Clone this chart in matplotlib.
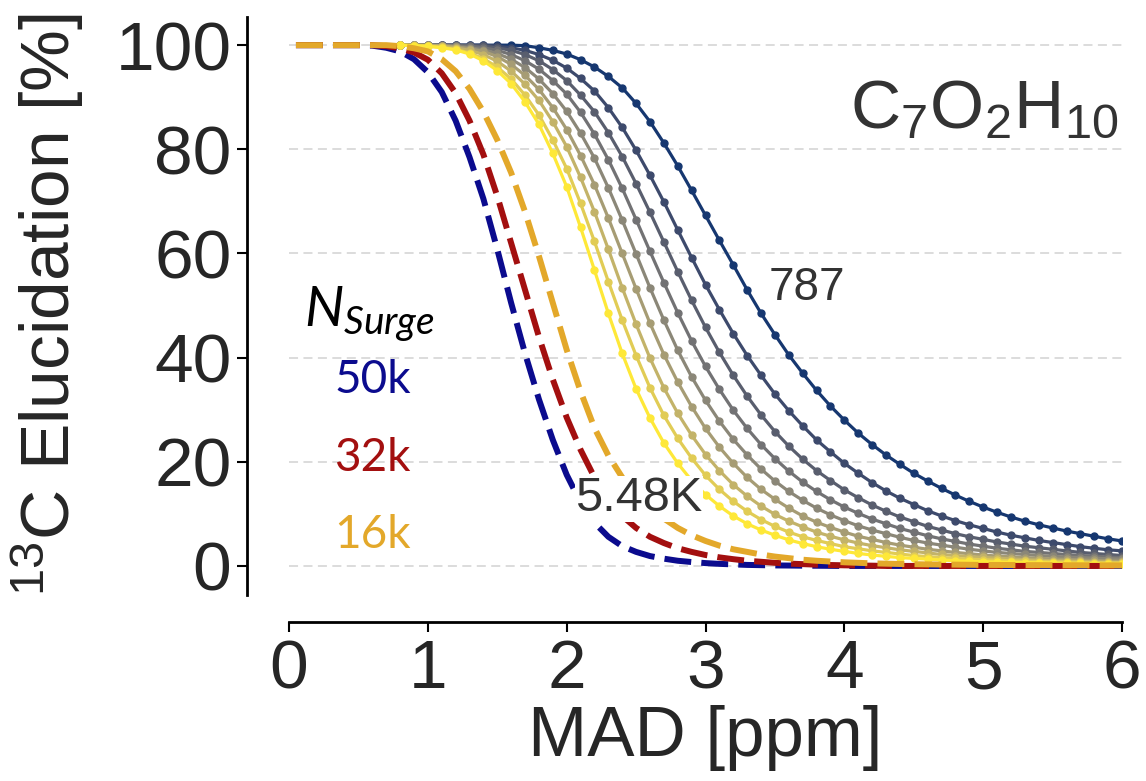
import numpy as np
import matplotlib
matplotlib.use('Agg')
import matplotlib.pyplot as plt

plt.rcParams['font.family'] = ['Liberation Sans', 'DejaVu Sans']
plt.rcParams['mathtext.fontset'] = 'custom'
plt.rcParams['mathtext.rm'] = 'Liberation Sans'
plt.rcParams['mathtext.it'] = 'Lato:italic'

# MAD grid [ppm]; solid curves use mad[5:] (0.8 .. 6.0)
mad = [0.05, 0.3, 0.5, 0.6, 0.7,
       0.8, 0.9, 1.0, 1.1, 1.2, 1.3, 1.4, 1.5, 1.6, 1.7, 1.8, 1.9,
       2.0, 2.1, 2.2, 2.3, 2.4, 2.5, 2.6, 2.7, 2.8, 2.9,
       3.0, 3.1, 3.2, 3.3, 3.4, 3.5, 3.6, 3.7, 3.8, 3.9,
       4.0, 4.1, 4.2, 4.3, 4.4, 4.5, 4.6, 4.7, 4.8, 4.9,
       5.0, 5.1, 5.2, 5.3, 5.4, 5.5, 5.6, 5.7, 5.8, 5.9, 6.0]

# dashed reference curves (N_Surge)
surge_labels = ['50k', '32k', '16k']
surge_colors = ['#0b0b8e', '#a30f0f', '#e3a82a']
surge_50k = [100, 100, 100, 99.9, 99.5,
             98.8, 97.3, 94.8, 91.0, 85.5, 78.5, 70.5, 60.8, 50.5, 40.8, 32.0, 24.2,
             17.5, 12.2, 8.3, 5.6, 3.8, 2.7, 1.9, 1.4, 1.0, 0.75,
             0.55, 0.4, 0.3, 0.2, 0.15, 0.1, 0.08, 0.05, 0.04, 0.02,
             0, 0, 0, 0, 0, 0, 0, 0, 0, 0, 0, 0, 0, 0, 0, 0, 0, 0, 0, 0, 0]
surge_32k = [100, 100, 100, 100, 99.8,
             99.4, 98.6, 97.2, 94.6, 90.8, 85.5, 79.0, 71.0, 62.0, 53.0, 44.0, 35.8,
             28.5, 22.3, 17.0, 12.9, 9.6, 7.3, 5.6, 4.4, 3.4, 2.7,
             2.1, 1.65, 1.3, 1.0, 0.8, 0.6, 0.45, 0.35, 0.25, 0.18,
             0.12, 0.08, 0.05, 0, 0, 0, 0, 0, 0, 0, 0, 0, 0, 0, 0, 0, 0, 0, 0, 0, 0]
surge_16k = [100, 100, 100, 100, 100,
             99.8, 99.4, 98.8, 97.3, 95.0, 91.6, 87.2, 81.8, 75.5, 68.0, 59.5, 50.5,
             41.5, 33.5, 26.5, 21.2, 17.0, 13.8, 11.2, 9.1, 7.3, 5.9,
             4.8, 3.9, 3.2, 2.7, 2.2, 1.8, 1.5, 1.2, 1.0, 0.85,
             0.7, 0.6, 0.5, 0.44, 0.38, 0.34, 0.3, 0.27, 0.25, 0.22,
             0.2, 0.19, 0.18, 0.16, 0.15, 0.14, 0.13, 0.12, 0.11, 0.1, 0.1]

# solid curves with points, 787 (dark blue) .. 5.48K (yellow), MAD 0.8 .. 6.0
elu_a = [100, 100, 100, 100, 100, 100, 100, 100, 100, 99.9, 99.5, 99.0,
         98.3, 97.2, 95.8, 94.0, 91.8, 88.8, 85.3, 81.2, 76.8, 72.1,
         67.3, 62.5, 57.8, 53.0, 48.5, 44.4, 40.5, 37.0, 33.7, 30.7,
         28.0, 25.5, 23.3, 21.3, 19.5, 17.8, 16.3, 14.9, 13.6, 12.4,
         11.3, 10.3, 9.4, 8.6, 7.9, 7.3, 6.7, 6.2, 5.7, 5.2, 4.8]
elu_b = [100, 100, 100, 100, 100, 100, 100, 99.8, 99.5, 99.0, 98.2, 97.1,
         95.6, 93.6, 91.2, 88.0, 84.2, 79.8, 75.0, 69.9, 64.5, 59.2,
         54.0, 49.2, 44.6, 40.4, 36.6, 33.0, 29.8, 26.9, 24.2, 21.9,
         19.7, 17.8, 16.0, 14.4, 13.0, 11.8, 10.6, 9.6, 8.7, 7.9,
         7.2, 6.5, 5.9, 5.4, 4.9, 4.5, 4.1, 3.7, 3.4, 3.1, 2.9]
elu_c = [100, 100, 100, 100, 100, 99.9, 99.8, 99.5, 99.0, 98.2, 97.0, 95.3,
         93.2, 90.4, 87.2, 83.2, 78.6, 73.4, 67.9, 62.2, 56.5, 51.0,
         45.8, 41.0, 36.6, 32.6, 29.0, 25.8, 23.0, 20.5, 18.3, 16.4,
         14.6, 13.1, 11.7, 10.5, 9.4, 8.5, 7.6, 6.9, 6.2, 5.6,
         5.1, 4.6, 4.2, 3.8, 3.5, 3.2, 2.9, 2.6, 2.4, 2.2, 2.0]
elu_d = [100, 100, 100, 100, 99.9, 99.8, 99.5, 99.0, 98.2, 97.0, 95.4, 93.2,
         90.6, 87.1, 82.9, 78.0, 72.5, 66.5, 60.4, 54.4, 48.6, 43.2,
         38.3, 33.9, 29.9, 26.4, 23.3, 20.6, 18.2, 16.1, 14.3, 12.7,
         11.3, 10.1, 9.0, 8.1, 7.2, 6.5, 5.8, 5.2, 4.7, 4.2,
         3.8, 3.4, 3.1, 2.8, 2.6, 2.4, 2.2, 2.0, 1.9, 1.7, 1.6]
elu_e = [100, 100, 100, 99.9, 99.8, 99.5, 99.1, 98.4, 97.3, 95.7, 93.5, 90.7,
         87.3, 83.1, 78.3, 72.6, 66.4, 59.9, 53.4, 47.2, 41.4, 36.3,
         31.8, 27.8, 24.3, 21.3, 18.6, 16.3, 14.3, 12.6, 11.1, 9.8,
         8.7, 7.7, 6.9, 6.2, 5.5, 4.9, 4.4, 4.0, 3.6, 3.2,
         2.9, 2.6, 2.4, 2.2, 2.0, 1.85, 1.7, 1.6, 1.5, 1.4, 1.3]
elu_f = [100, 100, 100, 99.9, 99.7, 99.3, 98.8, 97.8, 96.3, 94.2, 91.5, 88.0,
         83.8, 78.8, 73.2, 66.8, 60.0, 53.2, 46.6, 40.6, 35.3, 30.6,
         26.4, 22.8, 19.7, 17.0, 14.7, 12.8, 11.1, 9.6, 8.4, 7.4,
         6.5, 5.7, 5.1, 4.5, 4.0, 3.6, 3.2, 2.9, 2.6, 2.35,
         2.1, 1.9, 1.75, 1.6, 1.45, 1.35, 1.25, 1.15, 1.05, 0.95, 0.9]
elu_g = [100, 100, 99.9, 99.8, 99.5, 99.0, 98.2, 96.9, 95.0, 92.5, 89.4, 85.3,
         80.5, 74.6, 68.0, 60.8, 53.4, 46.4, 39.9, 34.2, 29.3, 25.1,
         21.4, 18.3, 15.6, 13.4, 11.5, 9.9, 8.6, 7.5, 6.5, 5.7,
         5.0, 4.4, 3.9, 3.5, 3.1, 2.8, 2.5, 2.2, 2.0, 1.8,
         1.65, 1.5, 1.35, 1.2, 1.1, 1.0, 0.95, 0.88, 0.8, 0.75, 0.7]
elu_h = [100, 99.9, 99.8, 99.6, 99.2, 98.5, 97.4, 95.8, 93.5, 90.4, 86.6, 81.8,
         76.3, 69.6, 62.3, 54.6, 47.2, 40.4, 34.2, 28.9, 24.5, 20.7,
         17.4, 14.7, 12.4, 10.5, 8.9, 7.6, 6.5, 5.6, 4.9, 4.3,
         3.7, 3.3, 2.9, 2.6, 2.3, 2.0, 1.8, 1.6, 1.45, 1.3,
         1.2, 1.1, 1.0, 0.92, 0.85, 0.8, 0.75, 0.7, 0.65, 0.62, 0.6]
elu_i = [100, 99.9, 99.8, 99.5, 99.1, 98.3, 97.0, 95.1, 92.6, 89.1, 84.8, 79.2,
         72.8, 65.0, 56.8, 48.5, 40.8, 34.0, 28.4, 23.6, 19.7, 16.4,
         13.7, 11.5, 9.6, 8.1, 6.9, 5.9, 5.0, 4.3, 3.7, 3.2,
         2.8, 2.4, 2.1, 1.85, 1.6, 1.45, 1.3, 1.15, 1.0, 0.9,
         0.8, 0.75, 0.7, 0.65, 0.6, 0.55, 0.5, 0.48, 0.45, 0.42, 0.4]

fig = plt.figure(figsize=(11.46, 7.81), dpi=100)
ax = fig.add_axes([0.2522, 0.2382, 0.7269, 0.74])

solid = [elu_a, elu_b, elu_c, elu_d, elu_e, elu_f, elu_g, elu_h, elu_i]
cols = plt.get_cmap('cividis')(np.linspace(0.12, 1.0, len(solid)))
x = np.array(mad)
for ys, c in zip(solid, cols):
    ax.plot(x[5:], ys, color=c, lw=2.3, zorder=3)
    ax.plot(x[5:], ys, 'o', ms=5, color=c, zorder=3)

for ys, c in zip([surge_50k, surge_32k, surge_16k], surge_colors):
    ax.plot(x, ys, color=c, lw=4.3, ls=(0, (4.5, 1.7)), dash_capstyle='butt', zorder=4)

ax.set_xlim(0, 6)
ax.set_ylim(-5.57, 105.4)
ax.set_xticks(range(7))
ax.set_yticks(range(0, 101, 20))
for s in ['top', 'right']:
    ax.spines[s].set_visible(False)
ax.spines['left'].set_position(('outward', 30))
ax.spines['bottom'].set_position(('outward', 19.5))
ax.spines['left'].set_linewidth(2)
ax.spines['bottom'].set_linewidth(2)
ax.tick_params(length=7.5, width=1.5, labelsize=50, pad=4, labelcolor='#262626')
ax.yaxis.grid(True, color='#d9d9d9', ls=(0, (5, 3)), lw=1.3)
ax.set_axisbelow(True)

ax.text(5.97, 87.5, r'C$_7$O$_2$H$_{10}$', ha='right', va='center', fontsize=50, color='#333333')
ax.text(3.73, 53.4, '787', ha='center', va='center', fontsize=33, color='#333333')
ax.text(2.52, 12.9, '5.48K', ha='center', va='center', fontsize=35, color='#333333', zorder=5,
        bbox=dict(facecolor='white', edgecolor='none', pad=0.5))

ax.text(0.58, 48.2, r'$N_{Surge}$', ha='center', va='center', fontsize=40, color='black')
for lab, c, yy in zip(surge_labels, surge_colors, [35.7, 20.7, 6.0]):
    ax.text(0.6, yy, lab, ha='center', va='center', fontsize=33, color=c, family='Lato')

fig.text(48 / 1146, 1 - 305 / 781, r'$^{13}$C Elucidation [%]', rotation=90,
         ha='center', va='center', fontsize=50, color='#262626')
fig.text(705 / 1146, 1 - 738 / 781, 'MAD [ppm]', ha='center', va='center',
         fontsize=51, color='#262626')

fig.savefig('out.png', dpi=100)
